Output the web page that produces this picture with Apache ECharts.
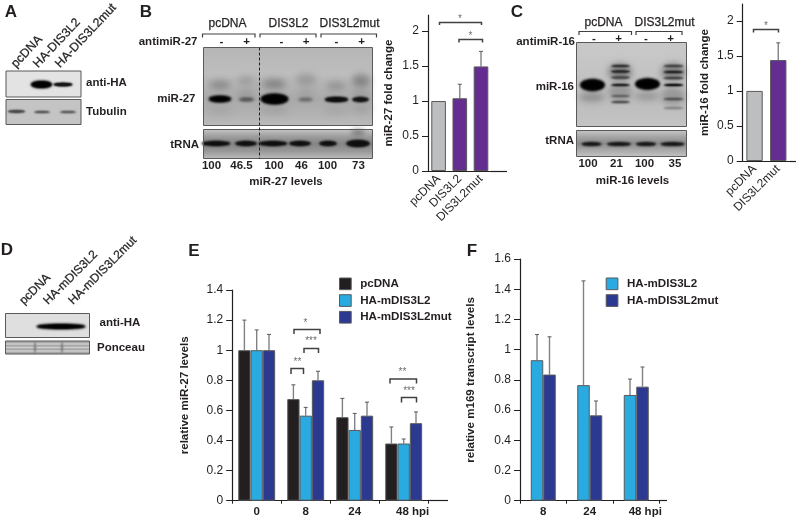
<!DOCTYPE html>
<html><head><meta charset="utf-8">
<style>html,body{margin:0;padding:0;background:#fff}#c{width:796px;height:520px}</style>
<script src="https://cdn.jsdelivr.net/npm/echarts@6/dist/echarts.min.js"></script>
</head><body><div id="c"></div>
<script>
// ---- chart data ----
const bCategories = ['pcDNA','DIS3L2','DIS3L2mut'];
const bValues = [1, 1.04, 1.495];
const bErrorTops = [null, 1.24, 1.71];
const cCategories = ['pcDNA','DIS3L2mut'];
const cValues = [1, 1.44];
const cErrorTops = [null, 1.686];
const eCategories = ['0','8','24','48 hpi'];
const ePcDNA = [1, 0.675, 0.555, 0.38];
const ePcDNATops = [1.2, 0.77, 0.68, 0.49];
const eWild = [1, 0.565, 0.47, 0.38];
const eWildTops = [1.135, 0.62, 0.58, 0.41];
const eMut = [1, 0.8, 0.565, 0.515];
const eMutTops = [1.105, 0.86, 0.655, 0.59];
const fCategories = ['8','24','48 hpi'];
const fWild = [0.93, 0.765, 0.70];
const fWildTops = [1.1, 1.455, 0.805];
const fMut = [0.835, 0.565, 0.755];
const fMutTops = [1.085, 0.66, 0.885];
const bLevels = ['100','46.5','100','46','100','73'];
const cLevels = ['100','21','100','35'];

const FF = '"Liberation Sans", Arial, sans-serif';
const GREY='#bcbec0', PURPLE='#662d91', BLACK='#231f20', CYAN='#29abe2', NAVY='#2b3990';
const g = [];
const text=(t,x,y,o={})=>g.push({type:'text',x,y,rotation:o.rot||0,z:o.z||20,style:{text:t,
  font:`${o.w||'bold'} ${o.s||11.5}px ${FF}`,fill:o.c||'#231f20',textAlign:o.a||'center',textVerticalAlign:o.v||'middle',
  stroke:o.sw?(o.c||'#231f20'):null,lineWidth:o.sw||0}});
const rect=(x,y,w,h,fill,z=5)=>g.push({type:'rect',z,shape:{x,y,width:w,height:h},style:{fill}});
const frame=(x,y,w,h)=>g.push({type:'rect',z:12,shape:{x,y,width:w,height:h},style:{fill:'none',stroke:'#58595b',lineWidth:1}});
// a soft band: only the blurred shadow of an ellipse drawn out of view lands on the blot
const OFF=3000;
const band=(cx,cy,w,h,c,blur=3,z=8,n=2)=>{for(let i=0;i<n;i++)g.push({type:'ellipse',z,shape:{cx:cx-OFF,cy,rx:w/2,ry:h/2},style:{fill:c,shadowBlur:blur,shadowColor:c,shadowOffsetX:OFF}});};
const vgrad=(...s)=>({type:'linear',x:0,y:0,x2:0,y2:1,colorStops:s.map((c,i)=>({offset:i/(s.length-1),color:c}))});
const bracket=(x1,x2,yTop,yLow,w=1.5,c='#414042')=>g.push({type:'polyline',z:15,shape:{points:[[x1,yLow],[x1,yTop],[x2,yTop],[x2,yLow]]},style:{fill:'none',stroke:c,lineWidth:w}});
const stars=(t,x,y)=>text(t,x,y,{w:'normal',s:10,c:'#6d6e71'});
const line=(x1,y1,x2,y2,c='#231f20',w=1.2,dash)=>g.push({type:'line',z:15,shape:{x1,y1,x2,y2},style:{stroke:c,lineWidth:w,lineDash:dash}});
const SW=0.25;

// Panel letters
[['A',11,12],['B',146,12],['C',517,12],['D',7,250],['E',194,251],['F',472,251]].forEach(l=>text(l[0],l[1],l[2],{s:17}));

// Panel A
const R45=Math.PI*0.26;
[['pcDNA',18,70],['HA-DIS3L2',40,70],['HA-DIS3L2mut',62,70]].forEach(l=>text(l[0],l[1],l[2],{w:'normal',s:12.3,a:'left',v:'bottom',rot:R45,sw:SW}));
rect(6,71,75,26,'#e3e3e3'); frame(6,71,75,26);
band(41.5,84.5,21,7,'#000',2.5); band(63,84.5,19,3.6,'#111',2);
rect(6,99.5,75,25,'#c4c4c4'); frame(6,99.5,75,25);
band(16.5,111.5,17,2.4,'#444',2); band(42,112,16,2.2,'#5a5a5a',2); band(68,112,16,2.2,'#5e5e5e',2);
text('anti-HA',86,83,{a:'left'}); text('Tubulin',86,112,{a:'left'});

// Panel B blots
bCategories.forEach((n,i)=>text(n,[227.5,288.5,349.5][i],24,{w:'normal',s:12,sw:SW}));
bracket(202.5,255,34,37.5,1.2); bracket(260,316,34,37.5,1.2); bracket(321,376.5,34,37.5,1.2);
text('antimiR-27',197.5,41.5,{a:'right',s:11.5});
['-','+','-','+','-','+'].forEach((s,i)=>text(s,[221.5,246.5,281.5,306,336.5,361.5][i],42,{s:11.5}));
rect(203.5,47.5,169,78,vgrad('#b6b6b6','#bdbdbd','#a9a9a9','#bababa'));
[[220,85,22,8,'#858585'],[246,81,18,8,'#999'],[246,94,18,7,'#979797'],[274,84,24,9,'#808080'],[306,80,20,12,'#999'],[336,86,20,8,'#909090'],[361,81,18,13,'#838383'],[361,94,17,6,'#959595'],[306,94,17,7,'#9d9d9d'],[274,110,30,8,'#a2a2a2'],[220,110,28,8,'#a5a5a5'],[336,110,26,8,'#a6a6a6'],[361,108,18,10,'#a2a2a2']].forEach(b=>band(b[0],b[1],b[2],b[3],b[4],7,6,1));
band(220,99,22,6,'#000',3); band(246.5,99.5,15,3,'#555',3); band(274.5,99,27,10,'#000',3);
band(305.5,99.5,14,2.6,'#666',3); band(336.5,99.5,23,5,'#0c0c0c',2.5); band(360.5,99.5,16,4.5,'#111',2.5);
frame(203.5,47.5,169,78);
rect(203.5,129.5,169,29,vgrad('#c4c4c4','#9c9c9c','#858585','#989898','#bcbcbc'));
[[216,28],[246,21],[273,28],[300,21],[328,17],[358,23]].forEach((b,i)=>band(b[0],143.5,b[1],i==5?6.5:4.5,'#0d0d0d',2.5));
band(358,133,14,7,'#808080',5,6,1);
frame(203.5,129.5,169,29);
line(259.5,47.5,259.5,158.5,'#231f20',1,[3,2]);
text('miR-27',195.5,99,{a:'right'}); text('tRNA',199,145,{a:'right'});
bLevels.forEach((t,i)=>text(t,[211.5,241.5,274,301.5,327.5,358.5][i],166));
text('miR-27 levels',286,181.5);
// B chart extras
bracket(439.5,481.5,22.5,25); bracket(459,482.5,39.5,42.5);
stars('*',460,19); stars('*',470.5,36);
line(491,171.5,507,171.5);

// Panel C blots
cCategories.forEach((n,i)=>text(n,[603.5,664.5][i],22.5,{w:'normal',s:12,sw:SW}));
bracket(579,631.5,31.5,35,1.2); bracket(636,682,31.5,35,1.2);
text('antimiR-16',575,41.5,{a:'right'});
['-','+','-','+'].forEach((s,i)=>text(s,[594,618.5,646,670.5][i],38.5));
rect(576.5,42.5,110,84,vgrad('#c9c9c9','#c4c4c4','#bcbcbc','#c4c4c4'));
[[592,97,26,9,'#909090'],[647,96,26,8,'#979797'],[620,72,24,18,'#858585'],[673,72,24,18,'#858585'],[620,92,24,18,'#989898'],[673,96,24,18,'#989898']].forEach(b=>band(b[0],b[1],b[2],b[3],b[4],6,6,1));
band(592.5,85,24,11,'#000',3); band(647.5,84,24,10.5,'#000',3);
[[66,'#333'],[71.5,'#222'],[77.5,'#444'],[85,'#222'],[96,'#666'],[102,'#555']].forEach(b=>band(620.5,b[0],19,2.2,b[1],2));
[[66,'#444'],[72,'#222'],[78,'#444'],[85,'#111'],[99,'#555'],[108,'#8a8a8a']].forEach(b=>band(673.5,b[0],20,2.2,b[1],2));
frame(576.5,42.5,110,84);
rect(576.5,130.5,110,26,vgrad('#c6c6c6','#a4a4a4','#8c8c8c','#a8a8a8','#c2c2c2'));
[[591.5,20],[619,24],[646,20],[672.5,24]].forEach(b=>band(b[0],144,b[1],3.2,'#111',2.5));
frame(576.5,130.5,110,26);
text('miR-16',574,87,{a:'right'}); text('tRNA',574,141,{a:'right'});
cLevels.forEach((t,i)=>text(t,[588,616.5,644.5,675][i],164));
text('miR-16 levels',632.5,180.5);
bracket(753.5,778.5,29.5,32.5); stars('*',766,26);
line(790,161.5,796,161.5);

// Panel D
[['pcDNA',26,307],['HA-mDIS3L2',50,307],['HA-mDIS3L2mut',75,307]].forEach(l=>text(l[0],l[1],l[2],{w:'normal',s:12,a:'left',v:'bottom',rot:Math.PI/4,sw:SW}));
rect(5.5,313.5,84,24,'#dfdfdf'); frame(5.5,313.5,84,24);
band(61,326.5,49,5,'#000',2.5);
rect(5.5,341,84,13,'#a8a8a8');
[344,347.5,351].forEach(y=>g.push({type:'rect',z:7,shape:{x:6,y:y-0.7,width:83,height:1.4},style:{fill:'#d8d8d8',opacity:0.8}}));
[35,62].forEach(x=>band(x,347.5,2,12,'#777',2,9,1));
frame(5.5,341,84,13);
text('anti-HA',99.5,322.5,{a:'left'}); text('Ponceau',97,347.5,{a:'left'});

// Panel E extras
bracket(294,320,329.5,334); stars('*',305.5,323);
bracket(304,318.5,348.5,353); stars('***',311,341.5);
bracket(291,303.5,368.5,374); stars('**',297.5,362.5);
bracket(390,416.5,379,383.5); stars('**',402.5,372.5);
bracket(401.5,416.5,397.5,402.5); stars('***',409,391.5);
line(428,500.5,448,500.5);
line(659.5,500.5,667,500.5);

// ---- helpers for the library charts ----
const axisLine={lineStyle:{color:'#231f20',width:1.2}};
function yAxis(gi,max,interval,name,gap,ticks){return {gridIndex:gi,type:'value',min:0,max,interval,name,nameLocation:'middle',nameGap:gap,
  nameTextStyle:{fontFamily:FF,fontWeight:'bold',fontSize:11.6,color:'#231f20'},
  axisLine:{show:true,...axisLine},axisTick:{show:true,length:6,inside:false,lineStyle:{color:'#231f20'},customValues:ticks},
  axisLabel:{fontFamily:FF,fontSize:12,color:'#231f20',margin:9,customValues:ticks},splitLine:{show:false}};}
function xRot(gi,cats){return {gridIndex:gi,type:'category',data:cats,axisLine,axisTick:{show:false},
  axisLabel:{interval:0,rotate:45,margin:6,fontFamily:FF,fontSize:12,color:'#231f20'}};}
function xGroups(gi,cats){return {gridIndex:gi,type:'category',data:cats.map(c=>c.includes('hpi')?{value:c,textStyle:{padding:[0,0,0,18]}}:c),axisLine,
  axisTick:{show:true,length:3,lineStyle:{color:'#231f20'}},
  axisLabel:{interval:0,margin:5,fontFamily:FF,fontSize:11.5,fontWeight:'bold',color:'#231f20',hideOverlap:false}};}
function err(gi,vals,tops,offset,col='#808285'){return {type:'custom',xAxisIndex:gi,yAxisIndex:gi,z:1,clip:false,silent:true,legendHoverLink:false,
  encode:{x:0,y:2},data:vals.map((v,i)=>[i,v,tops[i]]).filter(d=>d[2]!==null),
  renderItem(p,api){const a=api.coord([api.value(0),api.value(2)]),b=api.coord([api.value(0),api.value(1)]);const x=a[0]+offset;
    return {type:'group',children:[
      {type:'line',shape:{x1:x,y1:a[1],x2:x,y2:b[1]},style:{stroke:col,lineWidth:1.4}},
      {type:'line',shape:{x1:x-2,y1:a[1],x2:x+2,y2:a[1]},style:{stroke:'#58595b',lineWidth:1}}]};}};}
const edge={borderColor:'#58595b',borderWidth:1};
function bars(gi,name,vals,color,w,extra={}){return {type:'bar',name,xAxisIndex:gi,yAxisIndex:gi,data:vals,barWidth:w,barGap:0,z:3,itemStyle:{color,...edge},...extra};}
const coloured=(vals,cols)=>vals.map((v,i)=>({value:v,itemStyle:{color:cols[i]}}));

const option={animation:false,backgroundColor:'#fff',
 grid:[
  {left:428,top:15,width:63.6,height:156},
  {left:742.7,top:4,width:47.4,height:157},
  {left:232.2,top:290,width:196,height:210.7},
  {left:520,top:259,width:139.5,height:241.7}],
 xAxis:[xRot(0,bCategories),xRot(1,cCategories),xGroups(2,eCategories),xGroups(3,fCategories)],
 yAxis:[
  yAxis(0,2.23,0.5,'miR-27 fold change',33,[0,0.5,1,1.5,2]),
  yAxis(1,2.24,0.5,'miR-16 fold change',32,[0,0.5,1,1.5,2]),
  yAxis(2,1.4,0.2,'relative miR-27 levels',41.5),
  yAxis(3,1.6,0.2,'relative m169 transcript levels',43)],
 legend:[
  {left:334,top:272.5,orient:'vertical',itemWidth:11.7,itemHeight:11.7,itemGap:4,selectedMode:false,icon:'rect',
   data:['pcDNA','HA-mDIS3L2','HA-mDIS3L2mut'],itemStyle:{borderColor:'#58595b',borderWidth:1},
   textStyle:{fontFamily:FF,fontWeight:'bold',fontSize:11.6,color:'#231f20',padding:[0,0,0,4]}},
  {left:600.7,top:272.5,orient:'vertical',itemWidth:11.7,itemHeight:11.7,itemGap:4,selectedMode:false,icon:'rect',
   data:['HA-mDIS3L2','HA-mDIS3L2mut'],itemStyle:{borderColor:'#58595b',borderWidth:1},
   textStyle:{fontFamily:FF,fontWeight:'bold',fontSize:11.6,color:'#231f20',padding:[0,0,0,4]}}],
 series:[
  bars(0,'miR-27 fold change',coloured(bValues,[GREY,PURPLE,PURPLE]),14.2),
  err(0,bValues,bErrorTops,0),
  bars(1,'miR-16 fold change',coloured(cValues,[GREY,PURPLE]),14.4),
  err(1,cValues,cErrorTops,0),
  bars(2,'pcDNA',ePcDNA,BLACK,12.3),
  bars(2,'HA-mDIS3L2',eWild,CYAN,12.3),
  bars(2,'HA-mDIS3L2mut',eMut,NAVY,12.3),
  err(2,ePcDNA,ePcDNATops,-12.3),
  err(2,eWild,eWildTops,0),
  err(2,eMut,eMutTops,12.3),
  bars(3,'HA-mDIS3L2',fWild,CYAN,12.5),
  bars(3,'HA-mDIS3L2mut',fMut,NAVY,12.5),
  err(3,fWild,fWildTops,-6.25),
  err(3,fMut,fMutTops,6.25)],
 graphic:{elements:g}};
const chart=echarts.init(document.getElementById('c'),null,{renderer:'canvas'});
chart.setOption(option);
</script></body></html>
